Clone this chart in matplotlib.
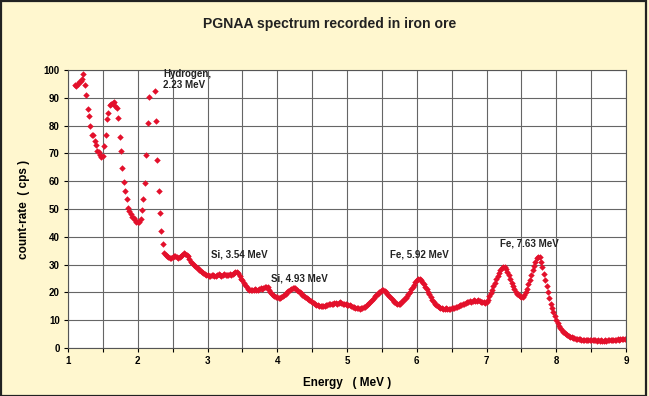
import numpy as np
import matplotlib
matplotlib.use('Agg')
import matplotlib.pyplot as plt
from matplotlib.patches import Rectangle

#%% plot parameters
plt.rcdefaults()
params = {
    'font.family': ['Liberation Sans', 'DejaVu Sans'],
    'font.weight': 'bold',
    'font.size': 7,
    'xtick.labelsize': 7,
    'ytick.labelsize': 7,
}
plt.rcParams.update(params)

#%% data, one channel every 0.02 MeV starting at 1.10 MeV
e_start = 1.10
e_step = 0.02
counts = [
    94.7, 94.2, 95.0, 95.6, 96.2, 96.8, 98.6, 94.5, 91.0, 86.0,   # 1.10
    83.3, 79.7, 76.5, 76.6, 74.6, 73.0, 71.0, 70.5, 69.6, 68.8,   # 1.30
    69.0, 72.5, 76.5, 82.5, 84.5, 87.5, 87.6, 88.2, 88.5, 87.2,   # 1.50
    86.2, 82.8, 76.0, 70.8, 64.8, 59.8, 56.5, 53.5, 50.2, 49.2,   # 1.70
    48.2, 47.3, 46.6, 46.0, 45.4, 45.2, 45.5, 46.5, 49.5, 53.5,   # 1.90
    59.5, 69.5, 81.0, 90.2, 101., 108., 102., 92.5, 81.5, 67.5,   # 2.10
    56.5, 48.5, 42.0, 37.5, 34.2, 33.5, 33.2, 32.6, 32.2, 32.5,   # 2.30
    32.9, 33.2, 33.0, 32.6, 32.4, 32.8, 33.2, 33.6, 34.0, 33.8,   # 2.50
    33.5, 33.0, 32.0, 31.0, 30.5, 30.0, 29.6, 29.1, 28.6, 28.0,   # 2.70
    27.6, 27.2, 27.0, 26.6, 26.4, 26.2, 26.0, 25.9, 26.1, 26.3,   # 2.90
    26.0, 25.8, 26.2, 26.5, 26.3, 26.0, 26.4, 26.7, 26.4, 26.1,   # 3.10
    26.3, 26.6, 26.4, 26.6, 27.0, 27.2, 27.3, 27.0, 26.0, 25.0,   # 3.30
    24.3, 23.5, 22.6, 22.0, 21.4, 21.0, 20.8, 20.9, 21.0, 21.1,   # 3.50
    20.8, 21.0, 21.3, 21.5, 21.4, 21.6, 21.9, 22.1, 21.8, 20.9,   # 3.70
    20.0, 19.4, 19.0, 18.7, 18.4, 18.2, 18.0, 18.1, 18.4, 18.8,   # 3.90
    19.2, 19.6, 20.0, 20.4, 20.8, 21.2, 21.5, 21.7, 21.5, 21.0,   # 4.10
    20.6, 20.2, 19.7, 19.2, 18.8, 18.4, 18.0, 17.5, 17.2, 16.8,   # 4.30
    16.5, 16.2, 15.9, 15.6, 15.4, 15.2, 15.0, 15.1, 15.0, 15.2,   # 4.50
    15.4, 15.5, 15.7, 15.9, 16.0, 15.8, 16.1, 16.2, 16.0, 16.3,   # 4.70
    16.5, 16.2, 16.0, 15.8, 16.0, 15.6, 15.5, 15.6, 15.2, 14.9,   # 4.90
    14.7, 14.5, 14.4, 14.3, 14.2, 14.4, 14.3, 14.6, 14.9, 15.3,   # 5.10
    15.8, 16.3, 16.8, 17.4, 18.0, 18.6, 19.1, 19.6, 20.1, 20.6,   # 5.30
    20.9, 21.0, 20.6, 20.0, 19.4, 18.8, 18.2, 17.6, 17.1, 16.6,   # 5.50
    16.3, 16.0, 15.8, 16.0, 16.4, 16.9, 17.5, 18.1, 18.7, 19.5,   # 5.70
    20.3, 21.1, 22.0, 22.8, 23.6, 24.3, 24.9, 25.0, 24.6, 23.9,   # 5.90
    23.0, 22.1, 21.2, 20.3, 19.3, 18.3, 17.4, 16.6, 16.0, 15.4,   # 6.10
    15.0, 14.7, 14.5, 14.3, 14.2, 14.1, 14.3, 14.2, 14.0, 14.2,   # 6.30
    14.4, 14.3, 14.5, 14.8, 14.7, 15.0, 15.3, 15.5, 15.7, 15.9,   # 6.50
    16.2, 16.4, 16.6, 16.8, 16.7, 17.0, 17.2, 17.0, 16.9, 17.1,   # 6.70
    16.9, 16.6, 16.7, 16.4, 16.3, 16.6, 17.4, 18.6, 19.8, 21.0,   # 6.90
    22.3, 23.5, 24.7, 25.8, 26.9, 27.9, 28.7, 29.3, 29.1, 28.4,   # 7.10
    27.4, 26.1, 24.8, 23.5, 22.3, 21.2, 20.3, 19.6, 19.0, 18.6,   # 7.30
    18.4, 18.5, 19.0, 20.0, 21.3, 22.9, 24.6, 26.3, 28.0, 29.6,   # 7.50
    31.0, 32.2, 32.9, 32.6, 31.0, 29.0, 26.8, 24.5, 22.2, 20.0,   # 7.70
    17.9, 16.0, 14.3, 12.8, 11.4, 10.1, 9.0, 8.0, 7.2, 6.5,       # 7.90
    5.9, 5.4, 5.0, 4.6, 4.3, 4.1, 3.9, 3.7, 3.5, 3.4,             # 8.10
    3.3, 3.2, 3.1, 3.0, 3.0, 2.9, 2.9, 2.8, 2.9, 2.8,             # 8.30
    2.7, 2.8, 2.7, 2.7, 2.6, 2.7, 2.6, 2.7, 2.6, 2.6,             # 8.50
    2.7, 2.6, 2.7, 2.7, 2.8, 2.8, 2.9, 2.9, 3.0, 3.1,             # 8.70
    3.0, 3.2, 3.3, 3.4, 3.3, 3.2,                                 # 8.90
]
energy = e_start + e_step * np.arange(len(counts))

peak_labels = ['Hydrogen,\n2.23 MeV', 'Si, 3.54 MeV', 'Si, 4.93 MeV',
               'Fe, 5.92 MeV', 'Fe, 7.63 MeV']
label_x = [2.36, 3.05, 3.91, 5.62, 7.19]
label_y = [96.5, 33.5, 25.0, 33.5, 37.5]

x_ticks = [1, 2, 3, 4, 5, 6, 7, 8, 9]
y_ticks = [0, 10, 20, 30, 40, 50, 60, 70, 80, 90, 100]

#%% figure
bg = '#fff7cf'
fig = plt.figure(figsize=(6.49, 3.96), dpi=100, facecolor=bg)
fig.patches.append(Rectangle((0.001, 0.0), 0.995, 0.997, transform=fig.transFigure,
                             fill=False, edgecolor='#222222', linewidth=1.6))
ax = fig.add_axes([0.1048, 0.1212, 0.8598, 0.702])
ax.set_facecolor('white')

ax.plot(energy, counts, linestyle='none', marker='D', markersize=3.3,
        color='#e3102b', markeredgewidth=0, clip_on=True)

ax.set_xlim(1, 9)
ax.set_ylim(0, 100)
ax.set_xticks(x_ticks)
ax.set_xticks(np.arange(1.5, 9, 1.0), minor=True)
ax.set_yticks(y_ticks)
ax.grid(True, which='both', color='#666666', linewidth=0.8)
ax.set_axisbelow(True)
ax.tick_params(which='both', direction='out', length=3, width=0.8, pad=3)
for s in ax.spines.values():
    s.set_color('#555555')
    s.set_linewidth(0.8)

for txt, tx, ty in zip(peak_labels, label_x, label_y):
    ax.text(tx, ty, txt, fontsize=7, fontweight='bold', ha='left', va='center',
            color='#222222', linespacing=1.1)

ax.set_xlabel('Energy   ( MeV )', fontsize=8.5, fontweight='bold', labelpad=8)
ax.set_ylabel('count-rate  ( cps )', fontsize=8.5, fontweight='bold', labelpad=10)
fig.text(0.508, 0.939, 'PGNAA spectrum recorded in iron ore', ha='center', va='center',
         fontsize=10.1, fontweight='bold', color='#222222')

plt.savefig('out.png', dpi=100, facecolor=bg)
